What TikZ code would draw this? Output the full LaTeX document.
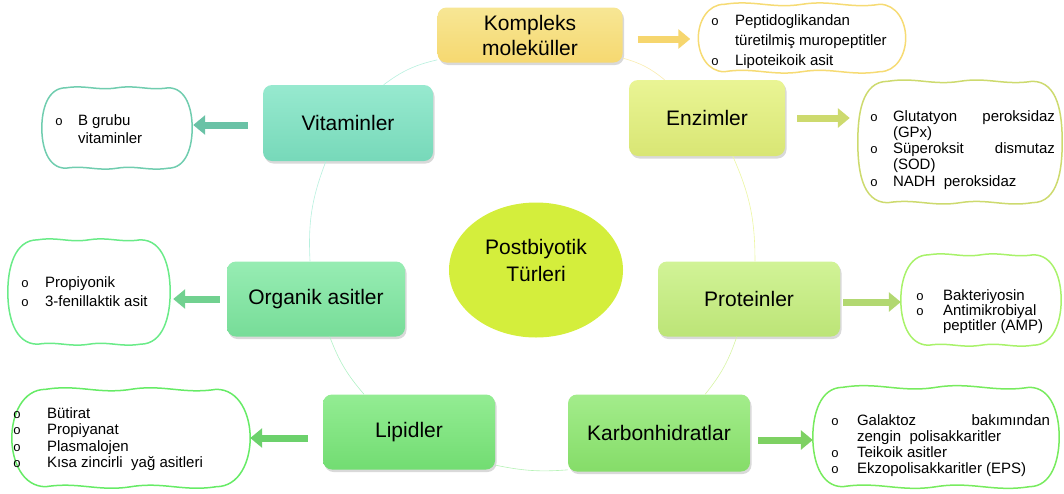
\documentclass[tikz,border=0pt]{standalone}
\usepackage{fontspec}
\setmainfont{Liberation Sans}
\newfontfamily\bltfont{Liberation Mono}
\usepackage{tikz}
\usetikzlibrary{arrows.meta,shadows,calc,shapes.geometric}
\def\blt{{\bltfont\fontsize{13}{13}\selectfont o}}
% wavy outline round a named box: #1 node, #2 colour, #3 corner reach
\def\wavybox#1#2#3{\draw[line width=1.5pt, line cap=round, #2]
	($(#1.north west)+(#3,0)$) to[out=9,in=189] (#1.north) to[out=9,in=189] ($(#1.north east)+(-#3,0)$)
	to[out=0,in=90] (#1.east) to[out=-90,in=0] ($(#1.south east)+(-#3,0)$)
	to[out=189,in=9] (#1.south) to[out=189,in=9] ($(#1.south west)+(#3,0)$)
	to[out=180,in=-90] (#1.west) to[out=90,in=180] ($(#1.north west)+(#3,0)$);}

\definecolor{kompC}{HTML}{F5E07A}
\definecolor{enzC}{HTML}{E4F27A}
\definecolor{vitC}{HTML}{7DE4C3}
\definecolor{orgC}{HTML}{7DE8A0}
\definecolor{protC}{HTML}{C6F07D}
\definecolor{lipC}{HTML}{78E878}
\definecolor{karbC}{HTML}{8CE86E}
\definecolor{postC}{HTML}{D4EE3C}

\tikzset{
	titlebox/.style={rounded corners=9pt, align=center, inner sep=0pt, font=\fontsize{21}{25}\selectfont, drop shadow={shadow xshift=1.5pt, shadow yshift=-2.5pt, opacity=0.3}},
	itembox/.style={inner sep=0pt},
	itemtext/.style={anchor=base west, inner sep=0pt, font=\fontsize{15}{#1}\selectfont},
	fatarrow/.style={draw=#1, line width=7pt, -{Triangle[length=12pt,width=19pt]}},
	ring/.style={draw=#1, line width=0.6pt},
}

\begin{document}
\begin{tikzpicture}[x=1pt, y=-1pt]
		%%%%% START %%%%%
		\useasboundingbox (0, 0) rectangle (1064, 493);
		
		% detail boxes
		\node[itembox, minimum width=207pt, minimum height=67pt] (kompd) at (802, 38) {};
		\node[itembox, minimum width=204pt, minimum height=121pt] (enzd) at (960, 142) {};
		\node[itembox, minimum width=150pt, minimum height=80pt] (vitd) at (117, 128) {};
		\node[itembox, minimum width=162pt, minimum height=104pt] (orgd) at (89, 292) {};
		\node[itembox, minimum width=160pt, minimum height=90pt] (protd) at (981, 300) {};
		\node[itembox, minimum width=238pt, minimum height=97pt] (lipd) at (131, 438) {};
		\node[itembox, minimum width=246pt, minimum height=99pt] (karbd) at (936, 437) {};
		\wavybox{kompd}{kompC!95!orange}{26}
		\wavybox{enzd}{enzC!90!black}{30}
		\wavybox{vitd}{vitC!90!black}{24}
		\wavybox{orgd}{orgC!85!green}{30}
		\wavybox{protd}{protC!85!green}{28}
		\wavybox{lipd}{lipC!85!green}{34}
		\wavybox{karbd}{karbC!85!green}{30}
		
		% titles
		\node[titlebox, top color=kompC!80!white, bottom color=kompC!92!orange, minimum width=185pt, minimum height=55pt] (komp) at (530, 35) {Kompleks\\moleküller};
		\node[titlebox, top color=enzC!80!white, bottom color=enzC!95!black, minimum width=156pt, minimum height=76pt] (enz) at (707, 118) {Enzimler};
		\node[titlebox, top color=vitC!80!white, bottom color=vitC!95!black, minimum width=170pt, minimum height=76pt] (vit) at (348, 123) {Vitaminler};
		\node[titlebox, top color=orgC!80!white, bottom color=orgC!95!black, minimum width=178pt, minimum height=75pt] (org) at (316, 299) {Organik asitler};
		\node[titlebox, top color=protC!80!white, bottom color=protC!95!black, minimum width=182pt, minimum height=75pt] (prot) at (749, 299) {Proteinler};
		\node[titlebox, top color=lipC!80!white, bottom color=lipC!95!black, minimum width=172pt, minimum height=75pt] (lip) at (409, 432) {Lipidler};
		\node[titlebox, top color=karbC!80!white, bottom color=karbC!95!black, minimum width=182pt, minimum height=77pt] (karb) at (659, 433) {Karbonhidratlar};
		
		\node[ellipse, fill=postC, minimum width=174pt, minimum height=135pt, inner sep=0pt] (post) at (536, 270) {};
		\node[align=center, font=\fontsize{21}{27}\selectfont] (postt) at ([yshift=10pt]post.center) {Postbiyotik\\Türleri};
		
		% the ring
		\draw[ring=vitC!55] (komp.195) to[bend right=12] (vit.47);
		\draw[ring=vitC!55] (vit.240) to[bend right=12] (org.99);
		\draw[ring=orgC!60] (org.290) to[bend right=10] (lip.140);
		\draw[ring=lipC!55] (lip.339) to[bend right=8] (karb.202);
		\draw[ring=protC!70] (karb.40) to[bend right=10] (prot.252);
		\draw[ring=enzC!70] (prot.81) to[bend right=12] (enz.304);
		\draw[ring=kompC!60] (enz.138) to[bend right=12] (komp.346);
		
		% arrows
		\draw[fatarrow=kompC!90!orange, shorten <=15pt, shorten >=8pt] ([yshift=-4pt]komp.east) -- ([yshift=-4pt]komp.east -| kompd.west);
		\draw[fatarrow=enzC!90!black, shorten <=12pt, shorten >=8pt] (enz.east) -- (enz.east -| enzd.west);
		\draw[fatarrow=vitC!85!black, shorten <=15pt, shorten >=1pt] ([yshift=-2pt]vit.west) -- ([yshift=-2pt]vit.west -| vitd.east);
		\draw[fatarrow=orgC!90!black, shorten <=7pt, shorten >=3pt] (org.west) -- (org.west -| orgd.east);
		\draw[fatarrow=protC!90!black, shorten <=3pt, shorten >=0pt] ([yshift=-3pt]prot.east) -- ([yshift=-3pt]prot.east -| protd.west);
		\draw[fatarrow=lipC!90!black, shorten <=15pt, shorten >=0pt] ([yshift=-6pt]lip.west) -- ([yshift=-6pt]lip.west -| lipd.east);
		\draw[fatarrow=karbC!90!black, shorten <=8pt, shorten >=0pt] ([yshift=-7pt]karb.east) -- ([yshift=-7pt]karb.east -| karbd.west);
		
		% item texts
		\node[itemtext=20] (kompt) at (711, 25) {\begin{tabular}[t]{@{}l@{\hspace{16pt}}l@{}}
			\blt & Peptidoglikandan\\
			& türetilmiş muropeptitler\\
			\blt & Lipoteikoik asit
		\end{tabular}};
		\node[itemtext=16.3] (enzt) at (870, 121) {\begin{tabular}[t]{@{}l@{\hspace{15pt}}l@{}}
			\blt & \makebox[162pt][s]{Glutatyon peroksidaz}\\
			& (GPx)\\
			\blt & \makebox[162pt][s]{Süperoksit dismutaz}\\
			& (SOD)\\
			\blt & NADH~ peroksidaz
		\end{tabular}};
		\node[itemtext=18] (vitt) at (55, 125) {\begin{tabular}[t]{@{}l@{\hspace{15pt}}l@{}}
			\blt & B grubu\\
			& vitaminler
		\end{tabular}};
		\node[itemtext=19] (orgt) at (21, 287) {\begin{tabular}[t]{@{}l@{\hspace{16pt}}l@{}}
			\blt & Propiyonik\\
			\blt & 3-fenillaktik asit
		\end{tabular}};
		\node[itemtext=14.5] (prott) at (916, 300) {\begin{tabular}[t]{@{}l@{\hspace{19pt}}l@{}}
			\blt & Bakteriyosin\\
			\blt & Antimikrobiyal\\
			& peptitler (AMP)
		\end{tabular}};
		\node[itemtext=16.5] (lipt) at (13, 418) {\begin{tabular}[t]{@{}l@{\hspace{26pt}}l@{}}
			\blt & Bütirat\\
			\blt & Propiyanat\\
			\blt & Plasmalojen\\
			\blt & Kısa zincirli~ yağ asitleri
		\end{tabular}};
		\node[itemtext=16] (karbt) at (831, 425) {\begin{tabular}[t]{@{}l@{\hspace{18pt}}l@{}}
			\blt & \makebox[193pt][s]{Galaktoz bakımından}\\
			& zengin~ polisakkaritler\\
			\blt & Teikoik asitler\\
			\blt & Ekzopolisakkaritler (EPS)
		\end{tabular}};
		%%%%% END %%%%%
\end{tikzpicture}
\end{document}
